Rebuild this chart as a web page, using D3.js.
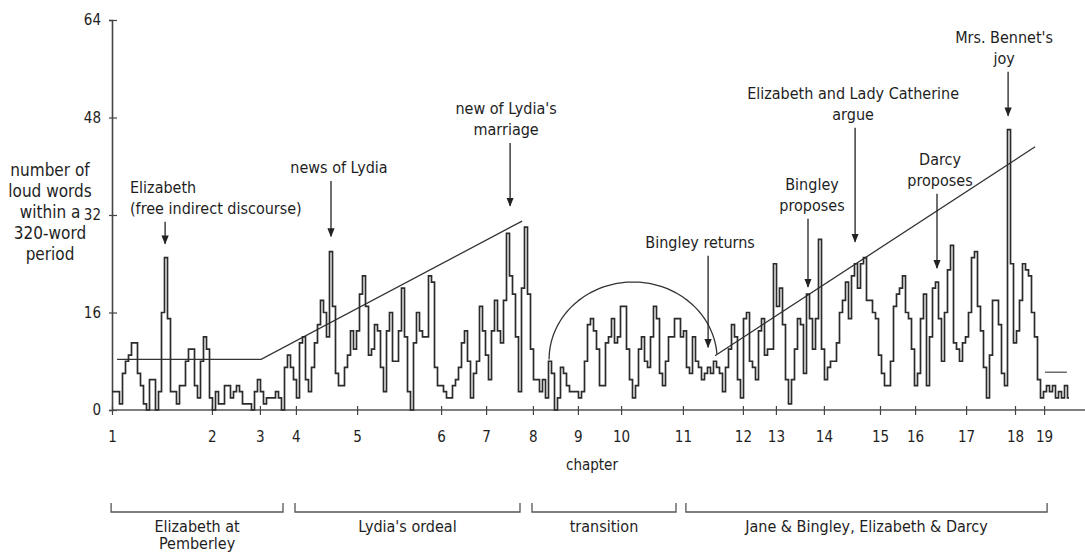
<!DOCTYPE html>
<html><head><meta charset="utf-8">
<script src="https://cdn.jsdelivr.net/npm/d3@7/dist/d3.min.js"></script>
<style>
body{margin:0;background:#fff}
text{font-family:"Liberation Sans Narrow","DejaVu Sans Condensed","Liberation Sans",sans-serif;fill:#1e1e1e}
</style>
</head><body>
<svg id="chart" width="1085" height="554"></svg>
<script>
// number of loud words within each 320-word period (successive windows)
const loudWords = [
3,3,3,1,6,8,9,11,11,6,4,1,0,5,5,0,3,16,25,15,
3,3,1,4,4,8,10,10,4,2,8,12,10,2,0,3,1,1,4,4,
2,3,4,3,1,1,1,0,3,5,3,1,2,2,2,3,2,0,7,9,
7,5,2,11,12,5,3,7,11,14,18,16,12,26,17,6,4,4,7,9,
13,10,13,19,22,17,9,10,14,13,7,3,13,16,8,8,13,20,12,3,
0,11,16,13,12,12,22,21,7,4,4,3,2,2,4,5,7,11,13,8,
2,6,8,17,13,9,5,13,18,13,11,18,29,22,19,12,3,20,30,19,
10,5,5,3,5,2,8,6,0,2,7,6,4,3,3,3,2,3,8,14,
15,13,10,4,4,11,12,15,11,12,17,17,10,5,2,4,10,12,8,7,
12,17,15,6,4,8,12,12,15,15,12,13,7,6,12,8,7,5,6,7,
6,8,7,6,3,7,10,14,12,5,2,15,16,8,7,5,13,15,9,10,
10,24,17,20,14,5,1,5,10,15,14,6,19,15,10,15,28,10,5,7,
8,8,11,16,18,21,15,22,24,20,24,25,18,18,16,15,9,6,4,4,
8,17,19,20,22,16,15,10,4,6,15,19,4,12,20,21,15,8,16,23,
27,11,10,8,11,12,16,25,26,17,13,7,2,9,18,18,14,6,4,46,
24,11,13,18,24,23,22,16,12,5,2,3,4,3,4,2,3,2,4,2
];
// chapter start positions, in window units
const chapterNames  = ["1","2","3","4","5","6","7","8","9","10","11","12","13","14","15","16","17","18","19"];
const chapterStarts = [0,33.3,49.3,61.3,81.7,109.7,124.7,140.3,155.3,169.7,190.3,210.3,221.3,237.3,256,267.7,284.7,301,310.7];
const yTicks = [0,16,32,48,64];
// story sections (window units)
const sectionLabels = [["Elizabeth at","Pemberley"],["Lydia's ordeal"],["transition"],["Jane & Bingley, Elizabeth & Darcy"]];
const sectionFrom   = [-0.3, 61, 140, 191.3];
const sectionTo     = [57, 136, 188, 311.7];
// annotated events: arrow position (window units), arrow top / bottom (loud words)
const eventLabels = [["Elizabeth","(free indirect discourse)"],["news of Lydia"],["new of Lydia's","marriage"],["Bingley returns"],["Bingley","proposes"],["Elizabeth and Lady Catherine","argue"],["Darcy","proposes"],["Mrs. Bennet's","joy"]];
const eventAt     = [17.7, 73, 132.7, 198.7, 232, 247.7, 275, 298.7];
const eventTop    = [30.9, 37.6, 43.8, 25.3, 31.4, 46.3, 35.5, 55.5];
const eventBottom = [27.3, 28.5, 33.5, 10.3, 20.2, 27.6, 23.3, 48.3];
// trend guides (window units, loud words)
const trendRise1 = [[1.7,8.3],[49.7,8.3],[136.7,31.0]];
const trendArc   = {cx:173.7, cy:8.3, rx:28, ry:12.7};
const trendRise2 = [[201,8.9],[307.7,43.2]];
const trendTail  = [[311,6.2],[318.3,6.2]];

const svg = d3.select("#chart");
const x = d3.scaleLinear().domain([0,325]).range([112,1087]);
const y = d3.scaleLinear().domain([0,64]).range([410,20]);
const ink = "#2b2b2b";

// y axis
const ya = svg.append("g").attr("transform",`translate(${x(0)},0)`)
  .call(d3.axisLeft(y).tickValues(yTicks).tickSizeOuter(0).tickSize(3).tickPadding(8));
ya.select(".domain").attr("stroke","#444").attr("stroke-width",1.6);
ya.selectAll(".tick line").attr("x1",-3).attr("x2",5).attr("stroke","#444").attr("stroke-width",1.2);
ya.selectAll(".tick text").attr("font-size",15).style("font-family",null);

// x axis
const xa = svg.append("g").attr("transform",`translate(0,${y(0)})`)
  .call(d3.axisBottom(x).tickValues(chapterStarts).tickFormat((d,i)=>chapterNames[i]).tickSizeOuter(0).tickSize(5).tickPadding(16));
xa.select(".domain").attr("d",`M${x(0)},0H1085`).attr("stroke","#555").attr("stroke-width",1.6);
xa.selectAll(".tick line").attr("y1",-4).attr("y2",5).attr("stroke","#444").attr("stroke-width",1.2);
xa.selectAll(".tick text").attr("font-size",15).style("font-family",null);

svg.append("text").attr("x",592).attr("y",470).attr("text-anchor","middle").attr("font-size",15).text("chapter");

// y label
const yl = ["number of","loud words","within a","320-word","period"];
svg.append("text").attr("text-anchor","middle").attr("font-size",17)
  .selectAll("tspan").data(yl).join("tspan").attr("x",50).attr("y",(d,i)=>176+i*21).text(d=>d);

// trend guides
const gl = d3.line().x(d=>x(d[0])).y(d=>y(d[1]));
const guides = svg.append("g").attr("fill","none").attr("stroke","#333").attr("stroke-width",1.3);
guides.append("path").attr("d",gl(trendRise1));
guides.append("path").attr("d",gl(trendRise2));
guides.append("path").attr("d",gl(trendTail)).attr("stroke","#555");
const arcPts = d3.range(180,3,-2).map(a=>[trendArc.cx+trendArc.rx*Math.cos(a*Math.PI/180), trendArc.cy+trendArc.ry*Math.sin(a*Math.PI/180)]);
guides.append("path").attr("d",gl(arcPts));

// series
const line = d3.line().x((d,i)=>x(i)).y(d=>y(d)).curve(d3.curveStep);
svg.append("path").datum(loudWords).attr("d",line).attr("fill","none")
  .attr("stroke",ink).attr("stroke-width",1.7).attr("stroke-linejoin","miter");

// events
const defs = svg.append("defs");
defs.append("marker").attr("id","ah").attr("viewBox","0 0 10 10").attr("refX",9).attr("refY",5)
  .attr("markerWidth",7).attr("markerHeight",7).attr("orient","auto")
  .append("path").attr("d","M0,1L10,5L0,9Z").attr("fill","#222");
const ev = svg.append("g");
eventLabels.forEach((lab,k)=>{
  const ax = x(eventAt[k]);
  ev.append("line").attr("x1",ax).attr("x2",ax).attr("y1",y(eventTop[k])).attr("y2",y(eventBottom[k]))
    .attr("stroke","#222").attr("stroke-width",1.3).attr("marker-end","url(#ah)");
  const first = k===0;
  const t = ev.append("text").attr("font-size",16).attr("text-anchor",first?"start":"middle");
  const n = lab.length;
  lab.forEach((s,j)=>{
    t.append("tspan").attr("x", first? 130 : ax + [0,8,-4,-8,4,-2,3,-4][k])
     .attr("y", y(eventTop[k]) - 8 - (n-1-j)*21).text(s);
  });
});

// sections
const sec = svg.append("g");
sectionLabels.forEach((lab,k)=>{
  const a = x(sectionFrom[k]), b = x(sectionTo[k]);
  sec.append("path").attr("d",`M${a},503V512H${b}V503`).attr("fill","none").attr("stroke","#555").attr("stroke-width",1.3);
  const t = sec.append("text").attr("text-anchor","middle").attr("font-size",16);
  lab.forEach((s,j)=>t.append("tspan").attr("x",(a+b)/2).attr("y",532+j*17).text(s));
});
</script>
</body></html>
